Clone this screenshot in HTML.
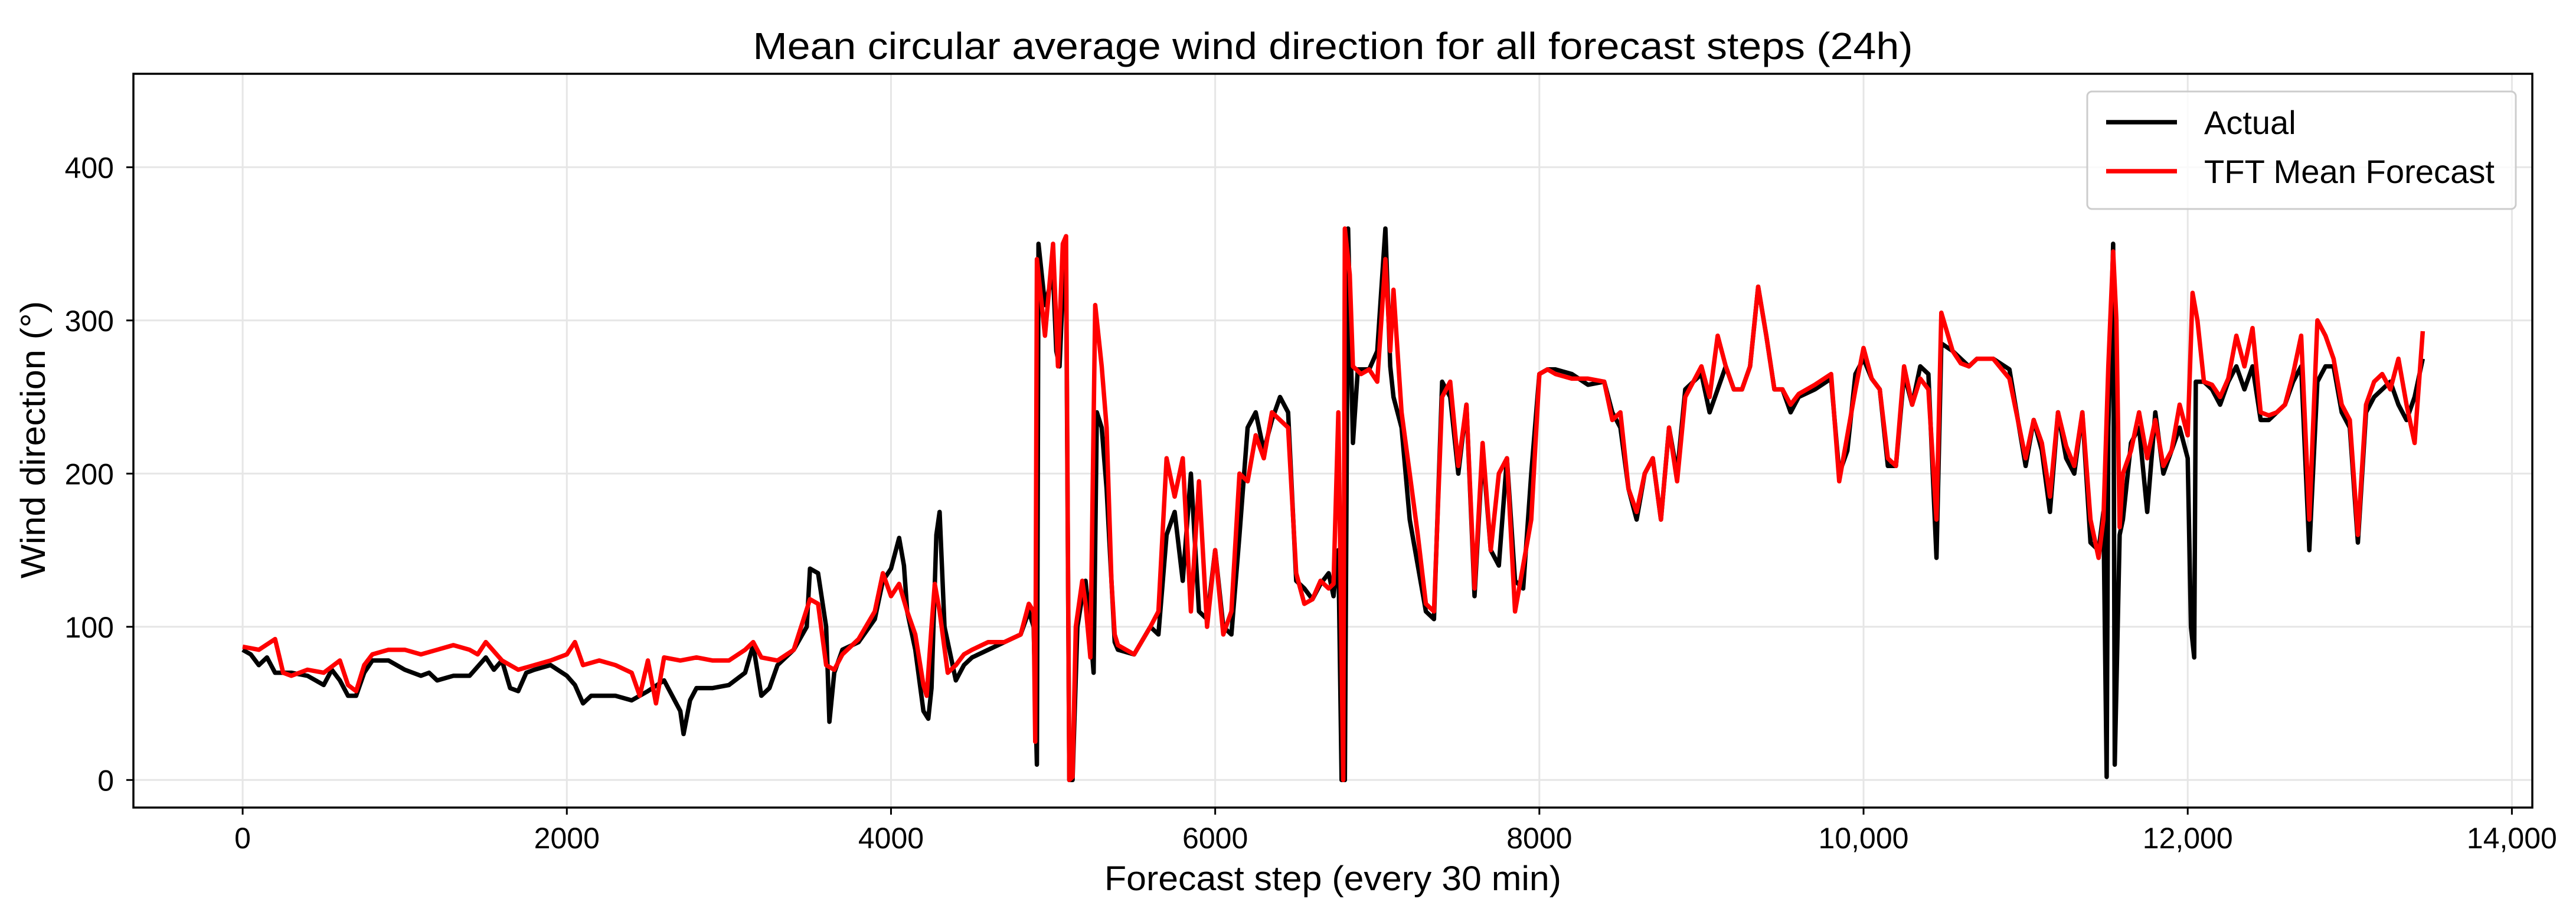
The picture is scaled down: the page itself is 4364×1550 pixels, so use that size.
<!DOCTYPE html>
<html><head><meta charset="utf-8"><style>
html,body{margin:0;padding:0;background:#fff;}
svg{display:block;font-family:"Liberation Sans",Arial,sans-serif;}
</style></head><body>
<svg id="chart" width="4364" height="1550" viewBox="0 0 4364 1550" xmlns="http://www.w3.org/2000/svg">
<rect width="4364" height="1550" fill="#fff"/>
<text x="2258" y="100" font-size="64" text-anchor="middle" textLength="1965" lengthAdjust="spacingAndGlyphs">Mean circular average wind direction for all forecast steps (24h)</text>
<g id="grid"></g>
<g id="series"></g>
<rect x="226" y="125" width="4064" height="1243" fill="none" stroke="#000" stroke-width="3.5"/>
<g id="ticks"></g>
<text x="2258" y="1508" font-size="58" text-anchor="middle" textLength="774" lengthAdjust="spacingAndGlyphs">Forecast step (every 30 min)</text>
<text transform="translate(76,745) rotate(-90)" font-size="58" text-anchor="middle" textLength="470" lengthAdjust="spacingAndGlyphs">Wind direction (°)</text>
<g>
<rect x="3536" y="155" width="726" height="199" rx="8" fill="#fff" fill-opacity="0.8" stroke="#ccc" stroke-width="3"/>
<line x1="3568" y1="207" x2="3688" y2="207" stroke="#000" stroke-width="7.5"/>
<text x="3734" y="227" font-size="56">Actual</text>
<line x1="3568" y1="290" x2="3688" y2="290" stroke="#f00" stroke-width="7.5"/>
<text x="3734" y="310" font-size="56" textLength="492" lengthAdjust="spacingAndGlyphs">TFT Mean Forecast</text>
</g>
</svg>
<script>
const xTicks = [0, 2000, 4000, 6000, 8000, 10000, 12000, 14000];
const xTickLabels = ["0", "2000", "4000", "6000", "8000", "10,000", "12,000", "14,000"];
const yTicks = [0, 100, 200, 300, 400];
const yTickLabels = ["0", "100", "200", "300", "400"];
const actualSteps = [0,50,100,150,200,300,400,500,550,600,650,700,750,800,900,1000,1050,1100,1150,1200,1300,1400,1500,1550,1600,1650,1700,1750,1800,1900,2000,2050,2100,2150,2200,2300,2400,2500,2600,2650,2700,2720,2760,2800,2900,3000,3100,3150,3200,3250,3300,3400,3480,3500,3550,3600,3620,3650,3700,3800,3900,3950,4000,4050,4080,4100,4150,4200,4230,4250,4280,4300,4330,4400,4450,4500,4600,4700,4800,4850,4880,4900,4910,4950,5000,5020,5040,5060,5080,5100,5120,5150,5180,5200,5220,5250,5270,5300,5330,5360,5380,5400,5500,5600,5650,5700,5750,5800,5850,5900,5950,6000,6050,6100,6150,6200,6250,6300,6350,6400,6450,6500,6550,6600,6650,6700,6730,6760,6780,6800,6820,6850,6880,6950,7000,7050,7080,7100,7150,7200,7250,7300,7350,7400,7450,7500,7550,7600,7650,7700,7750,7800,7850,7900,7950,8000,8050,8100,8200,8300,8400,8450,8500,8550,8600,8650,8700,8750,8800,8850,8900,9000,9050,9100,9150,9200,9250,9300,9350,9400,9450,9500,9550,9600,9700,9800,9850,9900,9950,10000,10050,10100,10150,10200,10250,10300,10350,10400,10450,10480,10550,10600,10650,10700,10800,10900,11000,11050,11100,11150,11200,11250,11300,11350,11400,11450,11480,11500,11510,11540,11550,11580,11600,11650,11700,11750,11800,11850,11900,11950,12000,12020,12040,12050,12100,12150,12200,12250,12300,12350,12400,12450,12500,12550,12600,12650,12700,12750,12800,12850,12900,12950,13000,13050,13100,13150,13200,13250,13300,13350,13400,13450];
const actualValues = [85,82,75,80,70,70,68,62,72,65,55,55,70,78,78,72,70,68,70,65,68,68,80,72,78,60,58,70,72,75,68,62,50,55,55,55,52,58,65,55,45,30,52,60,60,62,70,88,55,60,75,85,100,138,135,100,38,70,85,90,105,130,138,158,140,110,85,45,40,60,160,175,100,65,75,80,85,90,95,110,100,10,350,310,330,280,270,320,340,0,0,100,120,130,110,70,240,230,190,130,90,85,82,100,95,160,175,130,200,110,105,150,100,95,160,230,240,215,235,250,240,130,125,118,128,135,120,150,0,0,360,220,268,268,280,360,270,250,230,170,140,110,105,260,250,200,245,120,215,150,140,210,130,125,200,265,268,268,265,258,260,240,230,190,170,200,210,170,230,200,255,265,240,255,270,255,255,270,322,290,255,255,240,250,255,262,200,215,265,275,262,255,205,205,265,245,270,265,145,285,280,275,270,275,275,268,205,235,215,175,240,210,200,240,155,150,175,2,230,350,10,160,170,220,230,175,240,200,215,230,210,100,80,260,260,255,245,260,270,255,270,235,235,240,245,260,270,150,260,270,270,240,230,155,240,250,255,260,245,235,250,275];
const forecastSteps = [0,100,200,250,300,400,500,600,650,700,750,800,900,1000,1100,1200,1300,1400,1450,1500,1600,1700,1800,1900,2000,2050,2100,2200,2300,2400,2450,2500,2550,2600,2700,2800,2900,3000,3100,3150,3200,3300,3400,3500,3550,3600,3650,3700,3800,3900,3950,4000,4050,4100,4150,4200,4220,4250,4270,4300,4350,4400,4450,4500,4600,4700,4800,4850,4880,4890,4900,4950,5000,5030,5060,5080,5100,5120,5140,5180,5200,5230,5260,5300,5330,5360,5380,5400,5500,5600,5650,5700,5750,5800,5850,5900,5950,6000,6050,6100,6150,6200,6250,6300,6350,6400,6450,6500,6550,6600,6650,6700,6730,6760,6790,6800,6830,6850,6900,6950,7000,7050,7080,7100,7150,7200,7250,7300,7350,7400,7450,7500,7550,7600,7650,7700,7750,7800,7850,7900,7950,8000,8050,8100,8200,8300,8400,8450,8500,8550,8600,8650,8700,8750,8800,8850,8900,9000,9050,9100,9150,9200,9250,9300,9350,9400,9450,9500,9550,9600,9700,9800,9850,9900,9950,10000,10050,10100,10150,10200,10250,10300,10350,10400,10450,10480,10550,10600,10650,10700,10800,10900,11000,11050,11100,11150,11200,11250,11300,11350,11400,11450,11480,11510,11540,11560,11580,11600,11650,11700,11750,11800,11850,11900,11950,12000,12030,12060,12100,12150,12200,12250,12300,12350,12400,12450,12500,12550,12600,12650,12700,12750,12800,12850,12900,12950,13000,13050,13100,13150,13200,13250,13300,13350,13400,13450];
const forecastValues = [87,85,92,70,68,72,70,78,62,58,75,82,85,85,82,85,88,85,82,90,78,72,75,78,82,90,75,78,75,70,55,78,50,80,78,80,78,78,85,90,80,78,85,118,115,75,72,82,92,110,135,120,128,110,95,62,55,100,128,110,70,75,82,85,90,90,95,115,110,25,340,290,350,270,350,355,0,2,100,130,115,80,310,270,230,130,95,88,82,100,110,210,185,210,110,195,100,150,95,110,200,195,225,210,240,235,230,135,115,118,130,125,128,240,0,360,330,270,265,268,260,340,280,320,240,200,160,115,110,250,260,205,245,125,220,150,200,210,110,140,170,265,268,265,262,262,260,235,240,190,175,200,210,170,230,195,250,270,250,290,270,255,255,270,322,290,255,255,245,252,258,265,195,225,255,282,262,255,210,205,270,245,262,255,170,305,280,272,270,275,275,262,210,235,220,185,240,218,205,240,170,145,170,270,345,300,165,200,215,240,210,235,205,215,245,225,318,300,260,258,250,262,290,270,295,240,238,240,245,265,290,170,300,290,275,245,235,160,245,260,265,255,275,245,220,293];

const NS = "http://www.w3.org/2000/svg";
const L = 226, R = 4290, T = 125, B = 1368;
const xMin = -674, xMax = 14126, yMin = -18, yMax = 461;
function xs(v){ return L + (v - xMin) / (xMax - xMin) * (R - L); }
function ys(v){ return B - (v - yMin) / (yMax - yMin) * (B - T); }
function mk(tag, attrs, parent){
  const e = document.createElementNS(NS, tag);
  for (const k in attrs) e.setAttribute(k, attrs[k]);
  parent.appendChild(e);
  return e;
}
const grid = document.getElementById('grid');
const ticks = document.getElementById('ticks');
const series = document.getElementById('series');

xTicks.forEach((v, i) => {
  const gl = mk('line', {x1: xs(v), x2: xs(v), y1: T, y2: B, stroke: '#e6e6e6', 'stroke-width': 3}, grid);
  
  
  const tk = mk('line', {x1: xs(v), x2: xs(v), y1: B, y2: B + 12, stroke: '#000', 'stroke-width': 3}, ticks);
  
  
  const tl = mk('text', {x: xs(v), y: 1437, 'font-size': 50, 'text-anchor': 'middle'}, ticks);
  tl.textContent = xTickLabels[i];
  
  
});
yTicks.forEach((v, i) => {
  const gl = mk('line', {x1: L, x2: R, y1: ys(v), y2: ys(v), stroke: '#e6e6e6', 'stroke-width': 3}, grid);
  
  
  const tk = mk('line', {x1: L - 12, x2: L, y1: ys(v), y2: ys(v), stroke: '#000', 'stroke-width': 3}, ticks);
  
  
  const tl = mk('text', {x: 193, y: ys(v) + 18, 'font-size': 50, 'text-anchor': 'end'}, ticks);
  tl.textContent = yTickLabels[i];
  
  
});
function pathFor(steps, vals){
  return steps.map((s, i) => (i ? 'L' : 'M') + xs(s).toFixed(1) + ',' + ys(vals[i]).toFixed(1)).join('');
}
const pa = mk('path', {d: pathFor(actualSteps, actualValues), fill: 'none', stroke: '#000', 'stroke-width': 7.5, 'stroke-linejoin': 'round'}, series);


const pf = mk('path', {d: pathFor(forecastSteps, forecastValues), fill: 'none', stroke: '#f00', 'stroke-width': 7.5, 'stroke-linejoin': 'round'}, series);


</script>
</body></html>
